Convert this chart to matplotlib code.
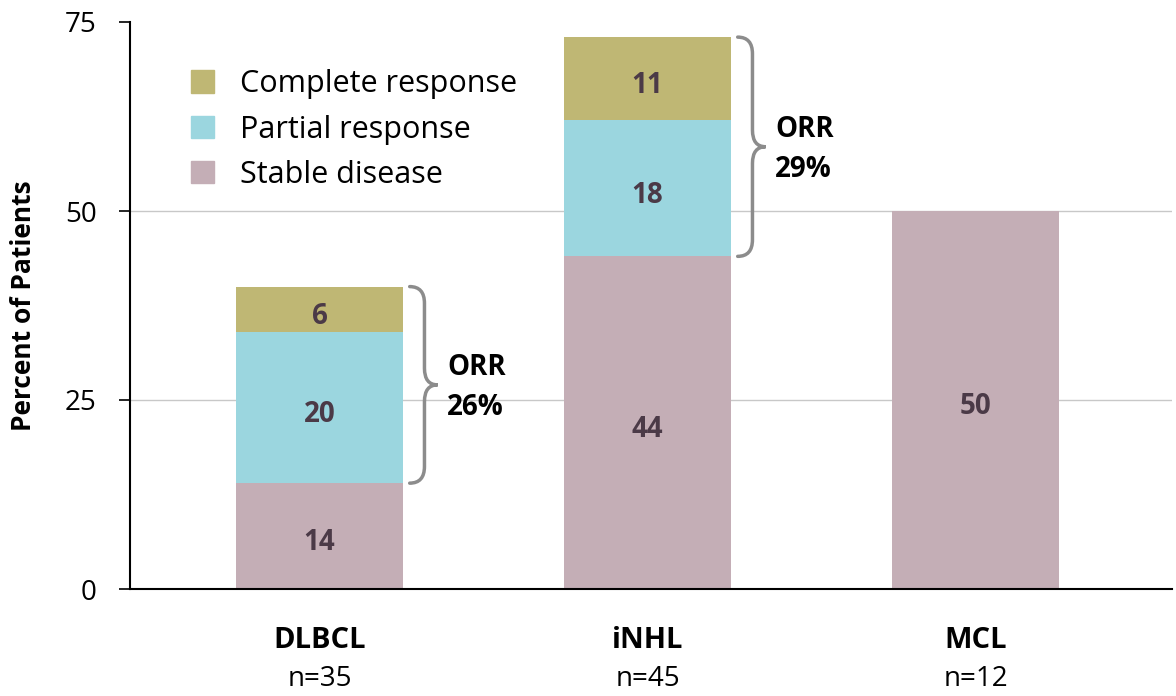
import numpy as np
import matplotlib.pyplot as plt
from matplotlib.path import Path
from matplotlib.patches import PathPatch, Patch

plt.rcParams['font.family'] = ['Open Sans', 'DejaVu Sans']

groups = ['DLBCL', 'iNHL', 'MCL']
counts = ['n=35', 'n=45', 'n=12']
stable = [14, 44, 50]
partial = [20, 18, 0]
complete = [6, 11, 0]
orr = ['26%', '29%', None]

c_stable = '#c4aeb6'
c_partial = '#9bd6df'
c_complete = '#bfb774'
lab_color = '#4b3a47'

fig = plt.figure(figsize=(11.76, 6.96), dpi=100)
ax = fig.add_axes([130 / 1176, 1 - 589 / 696, 1042 / 1176, 567 / 696])

x = np.arange(len(groups))
w = 0.51
bottom2 = np.array(stable)
bottom3 = bottom2 + np.array(partial)
ax.bar(x, stable, w, color=c_stable, zorder=2)
ax.bar(x, partial, w, bottom=bottom2, color=c_partial, zorder=2)
ax.bar(x, complete, w, bottom=bottom3, color=c_complete, zorder=2)

for i in range(len(groups)):
    for val, base in [(stable[i], 0), (partial[i], bottom2[i]), (complete[i], bottom3[i])]:
        if val > 0:
            ax.text(x[i], base + val / 2 - 0.9, str(val), ha='center', va='center',
                    fontsize=20, fontweight='bold', color=lab_color, zorder=3)


def brace(ax, xc, ylo, yhi, r=2.2):
    x0 = xc + w / 2 + 0.02
    x1 = x0 + 0.045
    x2 = x1 + 0.04
    ym = (ylo + yhi) / 2
    verts = [(x0, yhi), (x1, yhi), (x1, yhi - r),
             (x1, ym + r), (x1, ym), (x2, ym),
             (x1, ym), (x1, ym - r),
             (x1, ylo + r), (x1, ylo), (x0, ylo)]
    codes = [Path.MOVETO, Path.CURVE3, Path.CURVE3,
             Path.LINETO, Path.CURVE3, Path.CURVE3,
             Path.CURVE3, Path.CURVE3,
             Path.LINETO, Path.CURVE3, Path.CURVE3]
    ax.add_patch(PathPatch(Path(verts, codes), fill=False, edgecolor='#8c8c8c',
                           lw=2.5, capstyle='round', zorder=3))
    return x2, ym


for i in range(len(groups)):
    if orr[i]:
        tx, ty = brace(ax, x[i], stable[i], bottom3[i] + complete[i])
        ax.text(tx + 0.03, ty - 0.3, 'ORR\n' + orr[i], ha='left', va='center',
                fontsize=20, fontweight='bold', linespacing=1.5, zorder=3)

ax.set_xlim((130 - 319.5) / 328, (1172 - 319.5) / 328)
ax.set_ylim(0, 75)
ax.set_yticks([0, 25, 50, 75])
ax.tick_params(axis='y', direction='out', length=8, width=1.2, labelsize=20, pad=16)
ax.tick_params(axis='x', length=0, labelbottom=False)
for yv in [25, 50]:
    ax.axhline(yv, color='#c8c8c8', lw=1, zorder=1)
ax.spines['top'].set_visible(False)
ax.spines['right'].set_visible(False)
ax.spines['left'].set_linewidth(1.5)
ax.spines['bottom'].set_linewidth(1.5)
ax.set_ylabel('Percent of Patients', fontsize=19, fontweight='bold', labelpad=20)

# category labels below axis (figure pixel coords)
for i in range(len(groups)):
    px = ax.transData.transform((x[i], 0))[0] / 1176
    fig.text(px, 1 - 641 / 696, groups[i], ha='center', va='center',
             fontsize=21, fontweight='bold')
    fig.text(px, 1 - 679 / 696, counts[i], ha='center', va='center', fontsize=20)

handles = [Patch(color=c_complete), Patch(color=c_partial), Patch(color=c_stable)]
ax.legend(handles, ['Complete response', 'Partial response', 'Stable disease'],
          loc='upper left', bbox_to_anchor=(0.032, 0.965), frameon=False,
          fontsize=22, handlelength=0.75, handleheight=0.75, handletextpad=0.85,
          labelspacing=0.5)

fig.savefig('out.png', dpi=100)
